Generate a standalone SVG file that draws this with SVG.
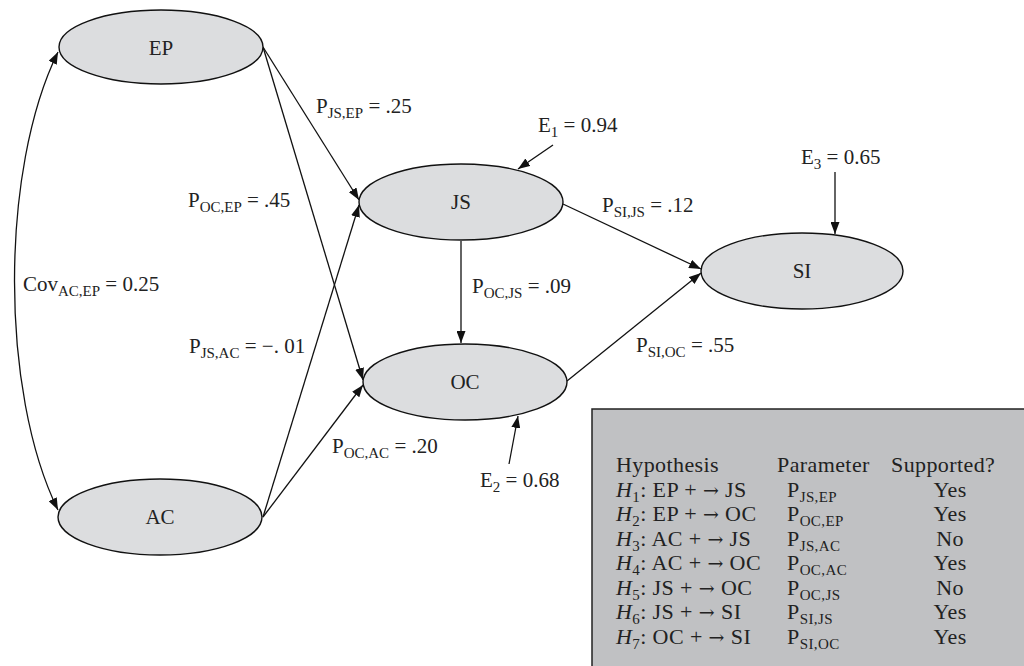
<svg xmlns="http://www.w3.org/2000/svg" width="1024" height="666" viewBox="0 0 1024 666">
<defs>
<marker id="ah" markerUnits="userSpaceOnUse" markerWidth="12" markerHeight="9" refX="12" refY="4.5" orient="auto-start-reverse">
<path d="M0,0 L12,4.5 L0,9 z" fill="#111"/>
</marker>
</defs>
<style>
text{font-family:"Liberation Serif","DejaVu Serif",serif;fill:#222;}
.lbl{font-size:21px;}
.nl{font-size:21px;text-anchor:middle;}
.tb{font-size:22px;letter-spacing:0.4px;}
.ar{font-family:"DejaVu Serif",serif;font-size:19px;}
.node ellipse{fill:#dcdddf;stroke:#111;stroke-width:1.4;}
.edge{fill:none;stroke:#111;stroke-width:1.3;marker-end:url(#ah);}
.cov{fill:none;stroke:#111;stroke-width:1.3;marker-end:url(#ah);marker-start:url(#ah);}
</style>
<rect width="1024" height="666" fill="#fff"/>

<g id="connectors">
<path class="cov" d="M58,52 C0,170 0,392 58,510"/>
<line class="edge" x1="263" y1="47" x2="359" y2="200"/>
<line class="edge" x1="263" y1="47" x2="363" y2="380"/>
<line class="edge" x1="263" y1="517" x2="359" y2="205"/>
<line class="edge" x1="263" y1="517" x2="363" y2="385"/>
<line class="edge" x1="461" y1="241" x2="461" y2="343"/>
<line class="edge" x1="563" y1="204" x2="701" y2="269"/>
<line class="edge" x1="567" y1="381" x2="701" y2="273"/>
<line class="edge" x1="553" y1="145" x2="518" y2="169"/>
<line class="edge" x1="509" y1="464" x2="518" y2="416"/>
<line class="edge" x1="835" y1="172" x2="835" y2="234"/>
</g>

<g font-family="'Liberation Serif','DejaVu Serif',serif">
<g id="node-EP" class="node"><ellipse cx="161" cy="47" rx="102" ry="37"/><text class="nl" x="161" y="55">EP</text></g>
<g id="node-AC" class="node"><ellipse cx="160" cy="517" rx="102" ry="38"/><text class="nl" x="160" y="524">AC</text></g>
<g id="node-JS" class="node"><ellipse cx="461" cy="202" rx="102" ry="38"/><text class="nl" x="461" y="209">JS</text></g>
<g id="node-OC" class="node"><ellipse cx="465" cy="382" rx="102" ry="38"/><text class="nl" x="465" y="389">OC</text></g>
<g id="node-SI" class="node"><ellipse cx="802" cy="271" rx="101" ry="38"/><text class="nl" x="802" y="278">SI</text></g>

<g id="labels">
<text class="lbl" x="316" y="113">P<tspan dy="5" font-size="15">JS,EP</tspan><tspan dy="-5"> = .25</tspan></text>
<text class="lbl" x="188" y="207">P<tspan dy="5" font-size="15">OC,EP</tspan><tspan dy="-5"> = .45</tspan></text>
<text class="lbl" x="538" y="132">E<tspan dy="5" font-size="15">1</tspan><tspan dy="-5"> = 0.94</tspan></text>
<text class="lbl" x="602" y="212">P<tspan dy="5" font-size="15">SI,JS</tspan><tspan dy="-5"> = .12</tspan></text>
<text class="lbl" x="472" y="293">P<tspan dy="5" font-size="15">OC,JS</tspan><tspan dy="-5"> = .09</tspan></text>
<text class="lbl" x="801" y="164">E<tspan dy="5" font-size="15">3</tspan><tspan dy="-5"> = 0.65</tspan></text>
<text class="lbl" x="23" y="291">Cov<tspan dy="5" font-size="15">AC,EP</tspan><tspan dy="-5"> = 0.25</tspan></text>
<text class="lbl" x="189" y="353">P<tspan dy="5" font-size="15">JS,AC</tspan><tspan dy="-5"> = −. 01</tspan></text>
<text class="lbl" x="636" y="352">P<tspan dy="5" font-size="15">SI,OC</tspan><tspan dy="-5"> = .55</tspan></text>
<text class="lbl" x="332" y="453">P<tspan dy="5" font-size="15">OC,AC</tspan><tspan dy="-5"> = .20</tspan></text>
<text class="lbl" x="480" y="487">E<tspan dy="5" font-size="15">2</tspan><tspan dy="-5"> = 0.68</tspan></text>
</g>

<g id="table">
<rect x="592" y="409" width="440" height="270" fill="#c0c1c3" stroke="#222" stroke-width="1.5"/>
<text class="tb" x="616" y="472">Hypothesis</text>
<text class="tb" x="777" y="472">Parameter</text>
<text class="tb" x="891" y="472">Supported?</text>

<text class="tb" x="616" y="496.5"><tspan font-style="italic">H</tspan><tspan dy="5" font-size="15">1</tspan><tspan dy="-5">: EP + </tspan><tspan class="ar">→</tspan> JS</text>
<text class="tb" x="616" y="521"><tspan font-style="italic">H</tspan><tspan dy="5" font-size="15">2</tspan><tspan dy="-5">: EP + </tspan><tspan class="ar">→</tspan> OC</text>
<text class="tb" x="616" y="545.5"><tspan font-style="italic">H</tspan><tspan dy="5" font-size="15">3</tspan><tspan dy="-5">: AC + </tspan><tspan class="ar">→</tspan> JS</text>
<text class="tb" x="616" y="570"><tspan font-style="italic">H</tspan><tspan dy="5" font-size="15">4</tspan><tspan dy="-5">: AC + </tspan><tspan class="ar">→</tspan> OC</text>
<text class="tb" x="616" y="594.5"><tspan font-style="italic">H</tspan><tspan dy="5" font-size="15">5</tspan><tspan dy="-5">: JS + </tspan><tspan class="ar">→</tspan> OC</text>
<text class="tb" x="616" y="619"><tspan font-style="italic">H</tspan><tspan dy="5" font-size="15">6</tspan><tspan dy="-5">: JS + </tspan><tspan class="ar">→</tspan> SI</text>
<text class="tb" x="616" y="643.5"><tspan font-style="italic">H</tspan><tspan dy="5" font-size="15">7</tspan><tspan dy="-5">: OC + </tspan><tspan class="ar">→</tspan> SI</text>

<text class="tb" x="787" y="496.5">P<tspan dy="5" font-size="15">JS,EP</tspan></text>
<text class="tb" x="787" y="521">P<tspan dy="5" font-size="15">OC,EP</tspan></text>
<text class="tb" x="787" y="545.5">P<tspan dy="5" font-size="15">JS,AC</tspan></text>
<text class="tb" x="787" y="570">P<tspan dy="5" font-size="15">OC,AC</tspan></text>
<text class="tb" x="787" y="594.5">P<tspan dy="5" font-size="15">OC,JS</tspan></text>
<text class="tb" x="787" y="619">P<tspan dy="5" font-size="15">SI,JS</tspan></text>
<text class="tb" x="787" y="643.5">P<tspan dy="5" font-size="15">SI,OC</tspan></text>

<text class="tb" x="950" y="496.5" text-anchor="middle">Yes</text>
<text class="tb" x="950" y="521" text-anchor="middle">Yes</text>
<text class="tb" x="950" y="545.5" text-anchor="middle">No</text>
<text class="tb" x="950" y="570" text-anchor="middle">Yes</text>
<text class="tb" x="950" y="594.5" text-anchor="middle">No</text>
<text class="tb" x="950" y="619" text-anchor="middle">Yes</text>
<text class="tb" x="950" y="643.5" text-anchor="middle">Yes</text>
</g>
</g>
</svg>
